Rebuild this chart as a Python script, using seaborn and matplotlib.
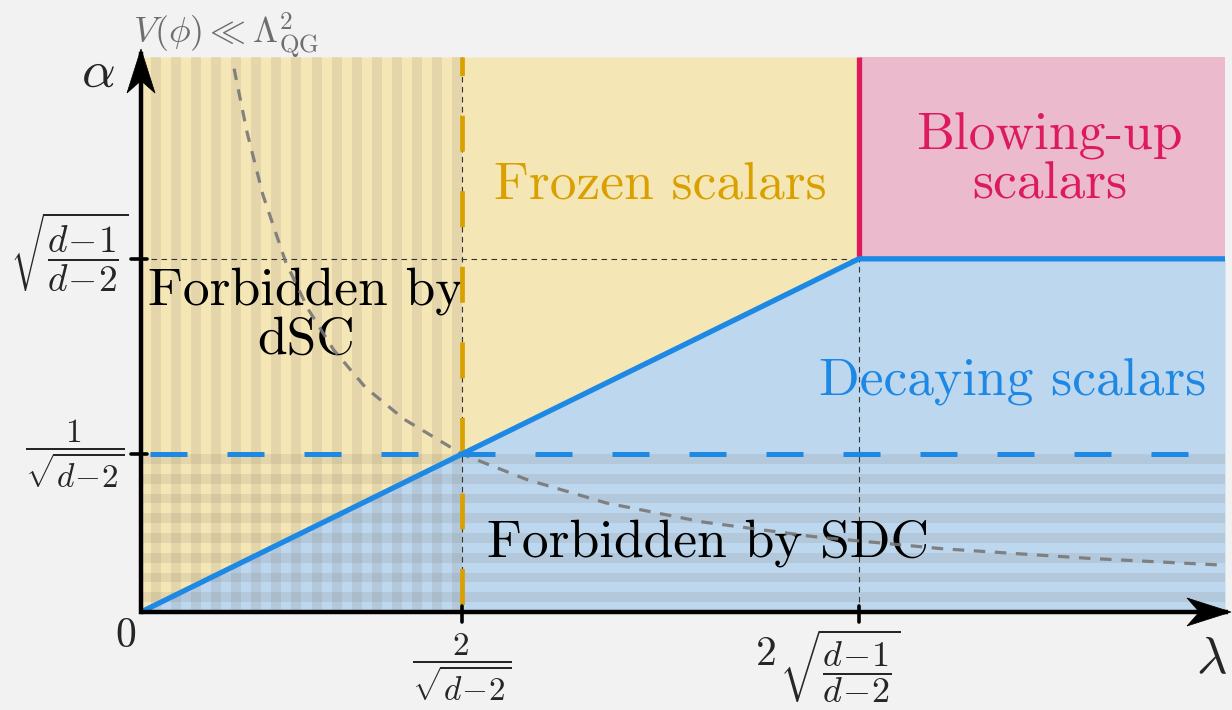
import numpy as np
import pandas as pd
import matplotlib
matplotlib.use("Agg")
import matplotlib.pyplot as plt
from matplotlib.patches import Polygon
from matplotlib.transforms import IdentityTransform
import seaborn as sns

# Spacetime dimension and the characteristic couplings
d = 6
lam_dsc = 2 / np.sqrt(d - 2)              # 2/sqrt(d-2)
lam_crit = 2 * np.sqrt((d - 1) / (d - 2))  # 2 sqrt((d-1)/(d-2))
alpha_sdc = 1 / np.sqrt(d - 2)             # 1/sqrt(d-2)
alpha_crit = np.sqrt((d - 1) / (d - 2))    # sqrt((d-1)/(d-2))

lam_max = 3.377
alpha_max = 1.757

# Boundary between decaying and frozen / blowing-up scalars
boundary_lam = [0.0, lam_crit, lam_max]
boundary_alpha = [0.0, alpha_crit, alpha_crit]

# Curve V(phi) << Lambda_QG^2
curve_lam = [0.29, 0.33, 0.38, 0.45, 0.52, 0.60, 0.70, 0.82, 1.00, 1.20,
             1.45, 1.75, 2.10, 2.50, 2.95, 3.377]
curve_alpha = [1.72, 1.52, 1.32, 1.11, 0.96, 0.83, 0.71, 0.61, 0.50, 0.42,
               0.345, 0.285, 0.238, 0.200, 0.170, 0.148]

x_tick_labels = [r"$\dfrac{2}{\sqrt{d\!-\!2}}$", r"$\sqrt{\dfrac{d\!-\!1}{d\!-\!2}}$"]
y_tick_labels = [r"$\dfrac{1}{\sqrt{d\!-\!2}}$", r"$\sqrt{\dfrac{d\!-\!1}{d\!-\!2}}$"]

sns.set_theme(style="white")
plt.rcParams["font.family"] = ["serif"]
plt.rcParams["font.serif"] = ["cmr10", "DejaVu Serif"]
plt.rcParams["mathtext.fontset"] = "cm"
plt.rcParams["axes.unicode_minus"] = False
plt.rcParams["axes.formatter.use_mathtext"] = True

BG = "#f2f2f2"
YELLOW = "#f5e6b6"
BLUE_FILL = "#bdd7ee"
PINK_FILL = "#ebbacc"
BLUE = "#1e88e5"
GOLD = "#d9a000"
PINK = "#dc1a5c"
STRIPE = (0.42, 0.40, 0.34)

W, H = 1232, 710
fig = plt.figure(figsize=(W / 100, H / 100), dpi=100, facecolor=BG)
ax = fig.add_axes([141 / W, 98 / H, 1084 / W, 555 / H])
ax.set_xlim(0, lam_max)
ax.set_ylim(0, alpha_max)
ax.set_facecolor(BG)
for s in ax.spines.values():
    s.set_visible(False)
ax.set_xticks([])
ax.set_yticks([])

# Regions
ax.fill_between(boundary_lam, 0, boundary_alpha, color=BLUE_FILL, lw=0, zorder=1)
ax.fill_between([0, lam_crit], [0, alpha_crit], alpha_max, color=YELLOW, lw=0, zorder=1)
ax.fill_between([lam_crit, lam_max], alpha_crit, alpha_max, color=PINK_FILL, lw=0, zorder=1)

# Excluded regions: vertical stripes (dSC) and horizontal stripes (SDC)
period = 1 / 16
for x0 in np.arange(period / 2, lam_dsc, period):
    ax.axvspan(x0, min(x0 + period / 2, lam_dsc), color=STRIPE, alpha=0.12, lw=0, zorder=2)
for y0 in np.arange(period / 2, alpha_sdc, period):
    ax.axhspan(y0, min(y0 + period / 2, alpha_sdc), color=STRIPE, alpha=0.12, lw=0, zorder=2)

# Thin guide lines
guide = dict(color="#333333", lw=0.8, ls=(0, (5, 4)), zorder=3)
ax.plot([0, lam_crit], [alpha_crit, alpha_crit], **guide)
ax.plot([lam_dsc, lam_dsc], [0, alpha_max], **guide)
ax.plot([lam_crit, lam_crit], [0, alpha_crit], **guide)

# Gray potential curve
sns.lineplot(x=curve_lam, y=curve_alpha, ax=ax, color="#777777", alpha=0.9, lw=2.3,
             sort=False, zorder=4)
ax.lines[-1].set_linestyle((0, (3.6, 3.0)))

# SDC dashed bound and dSC dashed bound
ax.plot([0, lam_max], [alpha_sdc, alpha_sdc], color=BLUE, lw=3.6,
        ls=(13.6, (7.4, 8.0)), zorder=5)
ax.plot([lam_dsc, lam_dsc], [0, alpha_max], color=GOLD, lw=3.4,
        ls=(14.4, (7.6, 8.4)), zorder=5)

# Blowing-up boundary
ax.plot([lam_crit, lam_crit], [alpha_crit, alpha_max], color=PINK, lw=3.8, zorder=5,
        solid_capstyle="butt")

# Decaying boundary
df = pd.DataFrame({"lam": boundary_lam, "alpha": boundary_alpha})
sns.lineplot(data=df, x="lam", y="alpha", ax=ax, color=BLUE, lw=3.8, sort=False, zorder=6)
ax.set_xlabel("")
ax.set_ylabel("")

# Axes lines with stealth arrow heads
ax.plot([0, lam_max + 0.01], [0, 0], color="black", lw=3.2, clip_on=False, zorder=8,
        solid_capstyle="butt")
ax.plot([0, 0], [0, alpha_max + 0.01], color="black", lw=3.2, clip_on=False, zorder=8,
        solid_capstyle="projecting")


def stealth(tip_axes, direction, length=44, width=28):
    tx, ty = ax.transAxes.transform(tip_axes)
    dx, dy = direction
    px, py = -dy, dx
    pts = [
        (tx, ty),
        (tx - dx * length + px * width / 2, ty - dy * length + py * width / 2),
        (tx - dx * length * 0.72, ty - dy * length * 0.72),
        (tx - dx * length - px * width / 2, ty - dy * length - py * width / 2),
    ]
    fig.patches.append(Polygon(pts, closed=True, facecolor="black", edgecolor="black",
                               lw=0.5, transform=IdentityTransform(), zorder=9))


stealth((1 + 6 / 1084, 0), (1, 0))
stealth((0, 1 + 8 / 555), (0, 1))

# Tick marks
for xv in [lam_dsc, lam_crit]:
    ax.plot([xv, xv], [-0.032, 0.02], color="black", lw=2.6, clip_on=False, zorder=8)
for yv in [alpha_sdc, alpha_crit]:
    ax.plot([-0.03, 0.02], [yv, yv], color="black", lw=2.6, clip_on=False, zorder=8)

# Tick labels
ax.text(lam_dsc, -0.06, x_tick_labels[0], ha="center", va="top", fontsize=24)
ax.text(lam_crit - 0.058, -0.048, x_tick_labels[1], ha="center", va="top", fontsize=26)
ax.text(lam_crit - 0.29, -0.135, "$2$", ha="center", va="center", fontsize=30)
ax.text(-0.206, alpha_sdc, y_tick_labels[0], ha="center", va="center", fontsize=24)
ax.text(-0.224, alpha_crit + 0.02, y_tick_labels[1], ha="center", va="center", fontsize=27)
ax.text(-0.047, -0.076, "$0$", ha="center", va="center", fontsize=30)

# Axis labels
ax.text(-0.133, alpha_max - 0.05, r"$\alpha$", ha="center", va="center", fontsize=38)
ax.text(3.335, -0.15, r"$\lambda$", ha="center", va="center", fontsize=38)
ax.text(0.265, alpha_max + 0.07, r"$V(\phi) \ll \Lambda^2_{\rm QG}$", ha="center",
        va="center", fontsize=26, color="#6e6e6e")

# Region labels
fs = 38.5
ax.text(1.617, 1.35, "Frozen scalars", ha="center", va="center", fontsize=fs, color=GOLD)
ax.text(2.83, 1.43, "Blowing-up\nscalars", ha="center", va="center", fontsize=fs,
        color=PINK, linespacing=1.05)
ax.text(2.717, 0.728, "Decaying scalars", ha="center", va="center", fontsize=fs, color=BLUE)
ax.text(0.514, 0.94, "Forbidden by\ndSC", ha="center", va="center", fontsize=fs,
        color="black", linespacing=1.05)
ax.text(1.766, 0.218, "Forbidden by SDC", ha="center", va="center", fontsize=fs,
        color="black")

fig.savefig("out.png", dpi=100, facecolor=BG)
